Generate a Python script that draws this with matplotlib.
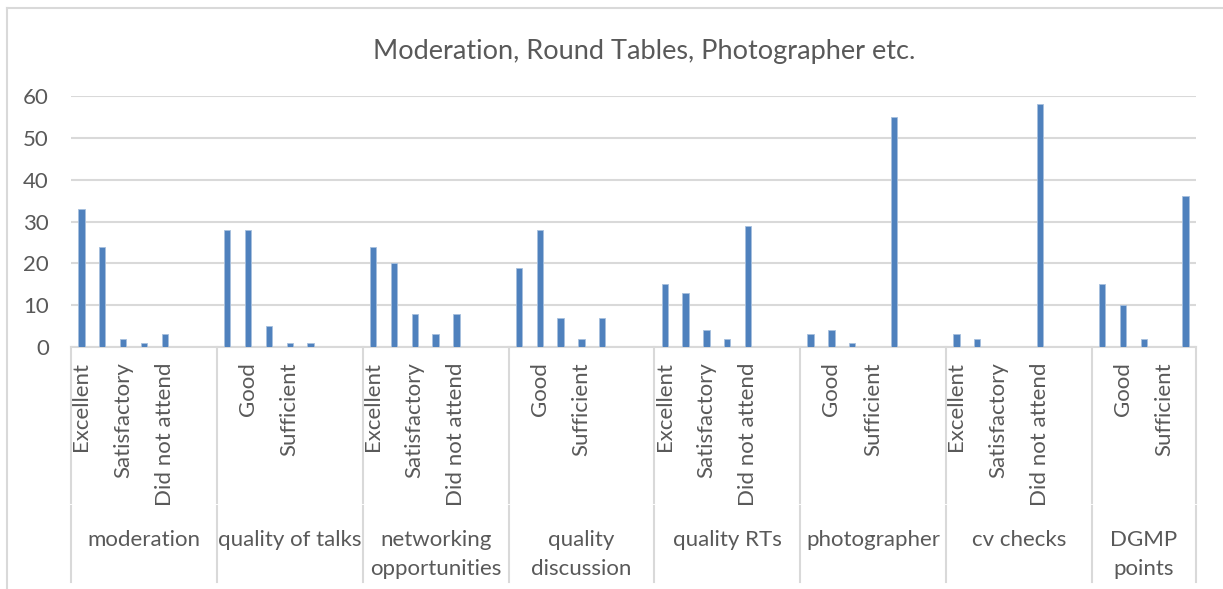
import matplotlib
matplotlib.use("Agg")
import matplotlib.pyplot as plt
from matplotlib.transforms import blended_transform_factory
from matplotlib.lines import Line2D

# Data
ratings = ["Excellent", "Good", "Satisfactory", "Sufficient", "Did not attend"]
groups = ["moderation", "quality of talks", "networking\nopportunities",
          "quality\ndiscussion", "quality RTs", "photographer", "cv checks",
          "DGMP\npoints"]
moderation = [33, 24, 2, 1, 3]
quality_talks = [28, 28, 5, 1, 1]
networking = [24, 20, 8, 3, 8]
quality_discussion = [19, 28, 7, 2, 7]
quality_rts = [15, 13, 4, 2, 29]
photographer = [3, 4, 1, 0, 55]
cv_checks = [3, 2, 0, 0, 58]
dgmp_points = [15, 10, 2, 0, 36]
yticks = [0, 10, 20, 30, 40, 50, 60]
title = "Moderation, Round Tables, Photographer etc."

series = [moderation, quality_talks, networking, quality_discussion,
          quality_rts, photographer, cv_checks, dgmp_points]

W, H = 1223, 589
plt.rcParams['font.family'] = ['Lato', 'DejaVu Sans']
text_col = '#595959'
grid_col = '#D9D9D9'
bar_col = '#4F81BD'

fig = plt.figure(figsize=(W / 100, H / 100), dpi=100)
ax = fig.add_axes([71 / W, 1 - 347 / H, (1196 - 71) / W, (347 - 96) / H])

# each group = 5 ratings + 2 empty rows (except the last one)
slot_gap = 2
xs, vals, labels, group_bounds = [], [], [], []
pos = 0
for gi, vals_g in enumerate(series):
    start = pos
    for r, v in zip(ratings, vals_g):
        xs.append(pos)
        vals.append(v)
        labels.append((pos, r))
        pos += 1
    if gi < len(series) - 1:
        for k in range(slot_gap):
            labels.append((pos, ""))
            pos += 1
    group_bounds.append((start, pos))
n_slots = pos

ax.bar(xs, vals, width=0.31, color=bar_col, edgecolor='#A7C0DE', linewidth=0.6, zorder=3)
ax.set_xlim(-0.5, n_slots - 0.5)
ax.set_ylim(0, 60)
ax.set_yticks(yticks)
ax.yaxis.grid(True, color=grid_col, linewidth=1.5, zorder=0)
ax.tick_params(axis='y', length=0, pad=16, labelsize=16, labelcolor=text_col)
ax.set_xticks([])
for s in ['top', 'right', 'left']:
    ax.spines[s].set_visible(False)
ax.spines['bottom'].set_color(grid_col)
ax.spines['bottom'].set_linewidth(1.5)

trans = blended_transform_factory(ax.transData, fig.transFigure)

# Excel shows every second category label
for i, (p, lab) in enumerate(labels):
    if i % 2 == 0 and lab:
        ax.text(p, 1 - 362 / H, lab, transform=trans, rotation=90,
                ha='center', va='top', fontsize=16, color=text_col)

for g, (a, b) in zip(groups, group_bounds):
    ax.text((a + b - 1) / 2, 1 - 530 / H, g, transform=trans, ha='center',
            va='top', fontsize=16, color=text_col, linespacing=1.55)

bounds = [a - 0.5 for a, b in group_bounds] + [n_slots - 0.5]
for bx in bounds:
    fig.add_artist(Line2D([bx, bx], [1 - 347 / H, 1 - 503 / H], transform=trans,
                          color=grid_col, linewidth=1.5))
    fig.add_artist(Line2D([bx, bx], [1 - 506 / H, 1 - 582 / H], transform=trans,
                          color=grid_col, linewidth=1.5))

fig.text(644 / W, 1 - 52 / H, title, ha='center', va='center', fontsize=19.5, color=text_col)

# chart border (cropped at right and bottom)
fig.add_artist(Line2D([7 / W, 1], [1 - 8 / H, 1 - 8 / H], color=grid_col, linewidth=1.5))
fig.add_artist(Line2D([7 / W, 7 / W], [1 - 8 / H, 0], color=grid_col, linewidth=1.5))

fig.savefig("out.png", dpi=100)
